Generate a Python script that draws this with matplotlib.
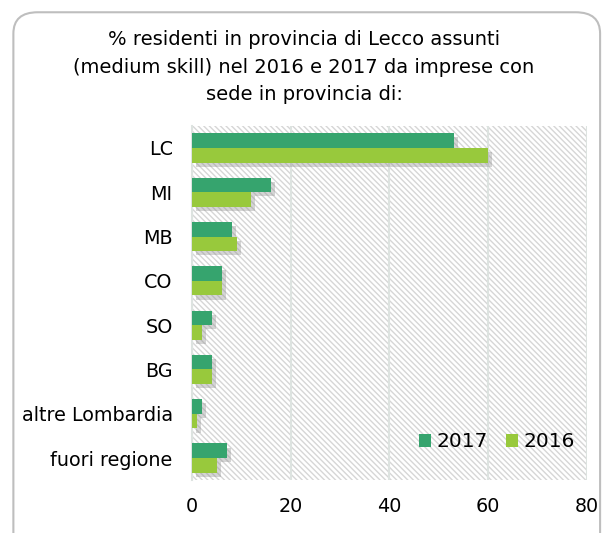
import matplotlib
matplotlib.use("Agg")
import matplotlib.pyplot as plt
import numpy as np
from matplotlib import patheffects
from matplotlib.patches import FancyBboxPatch

plt.rcParams["font.family"] = ["DejaVu Sans"]
plt.rcParams["hatch.linewidth"] = 1.0

categories = ["LC", "MI", "MB", "CO", "SO", "BG", "altre Lombardia", "fuori regione"]
val_2017 = [53, 16, 8, 6, 4, 4, 2, 7]
val_2016 = [60, 12, 9, 6, 2, 4, 1, 5]
xticks = [0, 20, 40, 60, 80]
title = ("% residenti in provincia di Lecco assunti\n"
         "(medium skill) nel 2016 e 2017 da imprese con\n"
         "sede in provincia di:")

c2017 = "#36A46E"
c2016 = "#98C93C"

fig = plt.figure(figsize=(6.08, 5.33), dpi=100)
ax = fig.add_axes([0.316, 0.099, 0.649, 0.665])

# rounded frame round the whole chart
frame = FancyBboxPatch((0.022, -0.05), 0.965, 1.027, transform=fig.transFigure,
                       boxstyle="round,pad=0,rounding_size=0.04",
                       facecolor="none", edgecolor="#BEBEBE", linewidth=1.5,
                       zorder=0)
fig.patches.append(frame)

ax.patch.set_facecolor("white")
ax.patch.set_hatch("\\\\\\\\\\\\")
ax.patch.set_edgecolor("#D6D6D6")

y = np.arange(len(categories))
h = 0.33
shadow = [patheffects.SimplePatchShadow(offset=(3, -3), shadow_rgbFace="#888888", alpha=0.35),
          patheffects.Normal()]
b1 = ax.barh(y - h / 2, val_2017, height=h, color=c2017, label="2017", zorder=3)
b2 = ax.barh(y + h / 2, val_2016, height=h, color=c2016, label="2016", zorder=3)
for b in list(b1) + list(b2):
    b.set_path_effects(shadow)

ax.set_xlim(0, 80)
ax.set_ylim(len(categories) - 0.5, -0.5)
ax.set_xticks(xticks)
ax.set_yticks(y)
ax.set_yticklabels(categories)
ax.tick_params(axis="both", length=0, labelsize=13.8, colors="black")
ax.tick_params(axis="x", pad=12)
ax.tick_params(axis="y", pad=14)
ax.xaxis.grid(True, color="#DDE3E0", linewidth=1.5, zorder=1)
ax.set_axisbelow(True)
for s in ["top", "right", "bottom"]:
    ax.spines[s].set_visible(False)
ax.spines["left"].set_color("#DDE3E0")
ax.spines["left"].set_linewidth(1.5)

leg = ax.legend(ncol=2, frameon=False, fontsize=14.5, loc="lower right",
                bbox_to_anchor=(1.015, 0.03), handlelength=0.6, handleheight=0.6,
                handletextpad=0.25, columnspacing=0.9)
for hd in leg.legend_handles:
    hd.set_path_effects([])

fig.text(0.5, 0.943, title, ha="center", va="top", fontsize=14, linespacing=1.55)

fig.savefig("out.png", dpi=100)
